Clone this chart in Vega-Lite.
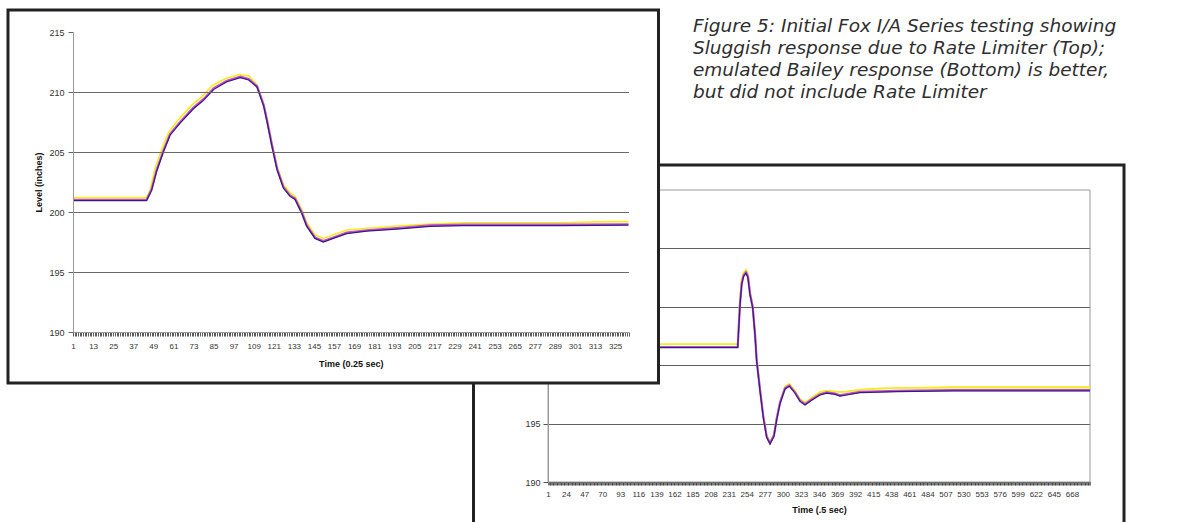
{
  "$schema": "https://vega.github.io/schema/vega-lite/v6.json",
  "width": 1179,
  "height": 522,
  "autosize": {"type": "none"},
  "padding": 0,
  "background": "white",
  "config": {
    "view": {"stroke": null},
    "axis": {"labelFont": "Liberation Sans", "titleFont": "Liberation Sans"}
  },
  "datasets": {
    "top": [
      {"s":"y","t":1,"v":201.2},{"s":"y","t":45,"v":201.2},{"s":"y","t":47,"v":201.8},{"s":"y","t":50,"v":203.6},{"s":"y","t":54,"v":205.2},{"s":"y","t":58,"v":206.6},{"s":"y","t":64,"v":207.7},{"s":"y","t":72,"v":208.9},{"s":"y","t":78,"v":209.6},{"s":"y","t":84,"v":210.5},{"s":"y","t":92,"v":211.1},{"s":"y","t":100,"v":211.45},{"s":"y","t":106,"v":211.35},{"s":"y","t":111,"v":210.6},{"s":"y","t":115,"v":209.0},{"s":"y","t":117,"v":207.8},{"s":"y","t":120,"v":205.7},{"s":"y","t":123,"v":203.8},{"s":"y","t":126.7,"v":202.3},{"s":"y","t":130.7,"v":201.6},{"s":"y","t":133.7,"v":201.3},{"s":"y","t":137.7,"v":200.2},{"s":"y","t":140.7,"v":199.1},{"s":"y","t":145.6,"v":198.1},{"s":"y","t":150.6,"v":197.8},{"s":"y","t":156.6,"v":198.1},{"s":"y","t":164.6,"v":198.5},{"s":"y","t":176.5,"v":198.65},{"s":"y","t":196.4,"v":198.85},{"s":"y","t":214,"v":199.0},{"s":"y","t":234,"v":199.1},{"s":"y","t":294,"v":199.1},{"s":"y","t":320,"v":199.2},{"s":"y","t":333,"v":199.2},
      {"s":"m","t":1,"v":201.02},{"s":"m","t":45,"v":201.02},{"s":"m","t":48,"v":201.9},{"s":"m","t":51,"v":203.5},{"s":"m","t":55,"v":205.1},{"s":"m","t":59,"v":206.5},{"s":"m","t":65,"v":207.5},{"s":"m","t":73,"v":208.7},{"s":"m","t":79,"v":209.4},{"s":"m","t":85,"v":210.3},{"s":"m","t":93,"v":210.93},{"s":"m","t":101,"v":211.27},{"s":"m","t":106,"v":211.08},{"s":"m","t":111,"v":210.48},{"s":"m","t":115,"v":208.9},{"s":"m","t":117,"v":207.6},{"s":"m","t":120,"v":205.5},{"s":"m","t":123,"v":203.6},{"s":"m","t":126.7,"v":202.1},{"s":"m","t":130.7,"v":201.38},{"s":"m","t":133.7,"v":201.12},{"s":"m","t":137.7,"v":199.98},{"s":"m","t":140.7,"v":198.88},{"s":"m","t":145.6,"v":197.88},{"s":"m","t":150.6,"v":197.58},{"s":"m","t":156.6,"v":197.88},{"s":"m","t":164.6,"v":198.28},{"s":"m","t":176.5,"v":198.48},{"s":"m","t":196.4,"v":198.68},{"s":"m","t":214.4,"v":198.88},{"s":"m","t":234.3,"v":198.94},{"s":"m","t":294,"v":198.94},{"s":"m","t":333,"v":198.98},
      {"s":"n","t":1,"v":200.95},{"s":"n","t":45,"v":200.95},{"s":"n","t":48,"v":201.8},{"s":"n","t":51,"v":203.4},{"s":"n","t":55,"v":205.0},{"s":"n","t":59,"v":206.4},{"s":"n","t":65,"v":207.4},{"s":"n","t":73,"v":208.6},{"s":"n","t":79,"v":209.3},{"s":"n","t":85,"v":210.2},{"s":"n","t":93,"v":210.85},{"s":"n","t":101,"v":211.2},{"s":"n","t":106,"v":211.0},{"s":"n","t":111,"v":210.4},{"s":"n","t":115,"v":208.8},{"s":"n","t":117,"v":207.5},{"s":"n","t":120,"v":205.4},{"s":"n","t":123,"v":203.5},{"s":"n","t":126.7,"v":202.0},{"s":"n","t":130.7,"v":201.3},{"s":"n","t":133.7,"v":201.05},{"s":"n","t":137.7,"v":199.9},{"s":"n","t":140.7,"v":198.8},{"s":"n","t":145.6,"v":197.8},{"s":"n","t":150.6,"v":197.5},{"s":"n","t":156.6,"v":197.8},{"s":"n","t":164.6,"v":198.2},{"s":"n","t":176.5,"v":198.4},{"s":"n","t":196.4,"v":198.6},{"s":"n","t":214.4,"v":198.8},{"s":"n","t":234.3,"v":198.86},{"s":"n","t":294,"v":198.86},{"s":"n","t":333,"v":198.9}
    ],
    "bot": [
      {"s":"y","t":1,"v":201.8},{"s":"y","t":242.5,"v":201.8},{"s":"y","t":245.2,"v":205.4},{"s":"y","t":247.5,"v":207.3},{"s":"y","t":250,"v":207.9},{"s":"y","t":253,"v":208.15},{"s":"y","t":255.5,"v":207.8},{"s":"y","t":258.2,"v":206.3},{"s":"y","t":261.6,"v":205.1},{"s":"y","t":264.5,"v":202.8},{"s":"y","t":266.7,"v":200.5},{"s":"y","t":270.9,"v":198.0},{"s":"y","t":275.1,"v":195.6},{"s":"y","t":279.4,"v":193.95},{"s":"y","t":283.6,"v":193.4},{"s":"y","t":288.7,"v":194.1},{"s":"y","t":292.1,"v":195.5},{"s":"y","t":296.4,"v":196.9},{"s":"y","t":302.7,"v":198.15},{"s":"y","t":308.2,"v":198.4},{"s":"y","t":315.5,"v":197.8},{"s":"y","t":321.8,"v":197.1},{"s":"y","t":328.2,"v":196.8},{"s":"y","t":336.7,"v":197.2},{"s":"y","t":347.3,"v":197.7},{"s":"y","t":355.8,"v":197.8},{"s":"y","t":366.4,"v":197.75},{"s":"y","t":372.7,"v":197.7},{"s":"y","t":381.3,"v":197.75},{"s":"y","t":398.2,"v":197.9},{"s":"y","t":423.7,"v":198.0},{"s":"y","t":444.9,"v":198.05},{"s":"y","t":516.6,"v":198.1},{"s":"y","t":691,"v":198.1},
      {"s":"m","t":1,"v":201.56},{"s":"m","t":242.5,"v":201.56},{"s":"m","t":245.4,"v":205.2},{"s":"m","t":247.6,"v":207.0},{"s":"m","t":250,"v":207.7},{"s":"m","t":253,"v":207.95},{"s":"m","t":255.5,"v":207.6},{"s":"m","t":258.2,"v":206.1},{"s":"m","t":261.6,"v":205.0},{"s":"m","t":264.5,"v":202.7},{"s":"m","t":266.7,"v":200.4},{"s":"m","t":270.9,"v":197.9},{"s":"m","t":275.1,"v":195.6},{"s":"m","t":279.4,"v":193.9},{"s":"m","t":283.6,"v":193.32},{"s":"m","t":288.7,"v":194.0},{"s":"m","t":292.1,"v":195.4},{"s":"m","t":296.4,"v":196.8},{"s":"m","t":302.7,"v":198.02},{"s":"m","t":308.2,"v":198.27},{"s":"m","t":315.5,"v":197.67},{"s":"m","t":321.8,"v":196.97},{"s":"m","t":328.2,"v":196.67},{"s":"m","t":336.7,"v":197.07},{"s":"m","t":347.3,"v":197.52},{"s":"m","t":355.8,"v":197.67},{"s":"m","t":366.4,"v":197.57},{"s":"m","t":372.7,"v":197.42},{"s":"m","t":381.3,"v":197.52},{"s":"m","t":398.2,"v":197.72},{"s":"m","t":423.7,"v":197.77},{"s":"m","t":444.9,"v":197.8},{"s":"m","t":516.6,"v":197.87},{"s":"m","t":691,"v":197.87},
      {"s":"n","t":1,"v":201.5},{"s":"n","t":242.5,"v":201.5},{"s":"n","t":245.4,"v":205.1},{"s":"n","t":247.6,"v":206.9},{"s":"n","t":250,"v":207.6},{"s":"n","t":253,"v":207.87},{"s":"n","t":255.5,"v":207.5},{"s":"n","t":258.2,"v":206.0},{"s":"n","t":261.6,"v":204.9},{"s":"n","t":264.5,"v":202.6},{"s":"n","t":266.7,"v":200.3},{"s":"n","t":270.9,"v":197.8},{"s":"n","t":275.1,"v":195.5},{"s":"n","t":279.4,"v":193.8},{"s":"n","t":283.6,"v":193.25},{"s":"n","t":288.7,"v":193.9},{"s":"n","t":292.1,"v":195.3},{"s":"n","t":296.4,"v":196.7},{"s":"n","t":302.7,"v":197.95},{"s":"n","t":308.2,"v":198.2},{"s":"n","t":315.5,"v":197.6},{"s":"n","t":321.8,"v":196.9},{"s":"n","t":328.2,"v":196.6},{"s":"n","t":336.7,"v":197.0},{"s":"n","t":347.3,"v":197.45},{"s":"n","t":355.8,"v":197.6},{"s":"n","t":366.4,"v":197.5},{"s":"n","t":372.7,"v":197.35},{"s":"n","t":381.3,"v":197.45},{"s":"n","t":398.2,"v":197.65},{"s":"n","t":423.7,"v":197.7},{"s":"n","t":444.9,"v":197.73},{"s":"n","t":516.6,"v":197.8},{"s":"n","t":691,"v":197.8}
    ]
  },
  "resolve": {"scale": {"x": "independent", "y": "independent"}, "axis": {"x": "independent", "y": "independent"}},
  "layer": [
    {
      "data": {"name": "bot"},
      "transform": [{"filter": "datum.s == 'y'"}],
      "mark": {"type": "line", "color": "#F5EC1E", "strokeWidth": 1.6},
      "encoding": {
        "x": {"field": "t", "type": "quantitative",
          "scale": {"domain": [1, 691], "range": [548, 1090], "nice": false, "zero": false},
          "axis": {"orient": "bottom", "offset": -40, "zindex": 0, "tickCount": 690, "format": "d",
            "labelExpr": "(datum.value - 1) % 23 == 0 && datum.value < 680 ? datum.label : ''",
            "labelOverlap": false, "labelFlush": false, "labelBound": false, "grid": false,
            "domainColor": "#444", "tickColor": "#222", "tickWidth": 0.6, "tickSize": 3,
            "labelFontSize": 8, "labelColor": "#333", "labelPadding": 5,
            "title": "Time (.5 sec)", "titleFontSize": 9, "titleFontWeight": "bold", "titleColor": "#111", "titlePadding": 7}},
        "y": {"field": "v", "type": "quantitative",
          "scale": {"domain": [190, 215], "range": [482, 190], "nice": false, "zero": false},
          "axis": {"orient": "left", "offset": -548, "zindex": 0, "values": [190, 195, 200, 205, 210, 215],
            "grid": true, "gridColor": {"condition": {"test": "datum.value == 190 || datum.value == 215", "value": "transparent"}, "value": "#606060"},
            "domainColor": "#999", "tickColor": "#555", "tickSize": 5, "labelOverlap": false, "labelFlush": false,
            "labelFontSize": 9, "labelColor": "#333", "labelPadding": 3,
            "title": "Level (inches)", "titleFontSize": 9, "titleFontWeight": "bold", "titleColor": "#111", "titlePadding": 5}}
      }
    },
    {
      "data": {"values": [{}]},
      "mark": {"type": "rect", "filled": false, "color": "#222", "strokeWidth": 3},
      "encoding": {
        "x": {"datum": -93.84, "type": "quantitative", "scale": {"domain": [1, 691], "range": [548, 1090], "nice": false, "zero": false}, "axis": null},
        "x2": {"datum": 734.3},
        "y": {"datum": 217.14, "type": "quantitative", "scale": {"domain": [190, 215], "range": [482, 190], "nice": false, "zero": false}, "axis": null},
        "y2": {"datum": 184.86}
      }
    },
    {
      "data": {"values": [{}]},
      "mark": {"type": "rect", "filled": false, "color": "#9a9a9a", "strokeWidth": 1},
      "encoding": {
        "x": {"datum": 1, "type": "quantitative", "scale": {"domain": [1, 691], "range": [548, 1090], "nice": false, "zero": false}, "axis": null},
        "x2": {"datum": 691},
        "y": {"datum": 190, "type": "quantitative", "scale": {"domain": [190, 215], "range": [482, 190], "nice": false, "zero": false}, "axis": null},
        "y2": {"datum": 215}
      }
    },
    {
      "data": {"name": "bot"},
      "transform": [{"filter": "datum.s == 'y'"}],
      "mark": {"type": "line", "color": "#F5EC1E", "strokeWidth": 1.6},
      "encoding": {
        "x": {"field": "t", "type": "quantitative", "scale": {"domain": [1, 691], "range": [548, 1090], "nice": false, "zero": false}, "axis": null},
        "y": {"field": "v", "type": "quantitative", "scale": {"domain": [190, 215], "range": [482, 190], "nice": false, "zero": false}, "axis": null}
      }
    },
    {
      "data": {"name": "bot"},
      "transform": [{"filter": "datum.s == 'm'"}],
      "mark": {"type": "line", "color": "#C84CC8", "strokeWidth": 2.2},
      "encoding": {
        "x": {"field": "t", "type": "quantitative", "scale": {"domain": [1, 691], "range": [548, 1090], "nice": false, "zero": false}, "axis": null},
        "y": {"field": "v", "type": "quantitative", "scale": {"domain": [190, 215], "range": [482, 190], "nice": false, "zero": false}, "axis": null}
      }
    },
    {
      "data": {"name": "bot"},
      "transform": [{"filter": "datum.s == 'n'"}],
      "mark": {"type": "line", "color": "#2E1E8A", "strokeWidth": 1.2},
      "encoding": {
        "x": {"field": "t", "type": "quantitative", "scale": {"domain": [1, 691], "range": [548, 1090], "nice": false, "zero": false}, "axis": null},
        "y": {"field": "v", "type": "quantitative", "scale": {"domain": [190, 215], "range": [482, 190], "nice": false, "zero": false}, "axis": null}
      }
    },
    {
      "data": {"values": [{}]},
      "mark": {"type": "rect", "fill": "white", "stroke": "#222", "strokeWidth": 3},
      "encoding": {
        "x": {"datum": -37.85, "type": "quantitative", "scale": {"domain": [1, 333], "range": [73, 628.5], "nice": false, "zero": false}, "axis": null},
        "x2": {"datum": 350.93},
        "y": {"datum": 216.83, "type": "quantitative", "scale": {"domain": [190, 215], "range": [332, 32], "nice": false, "zero": false}, "axis": null},
        "y2": {"datum": 185.75}
      }
    },
    {
      "data": {"name": "top"},
      "transform": [{"filter": "datum.s == 'y'"}],
      "mark": {"type": "line", "color": "#F5EC1E", "strokeWidth": 1.6},
      "encoding": {
        "x": {"field": "t", "type": "quantitative",
          "scale": {"domain": [1, 333], "range": [73, 628.5], "nice": false, "zero": false},
          "axis": {"orient": "bottom", "offset": -190, "zindex": 1, "tickCount": 332, "format": "d",
            "labelExpr": "(datum.value - 1) % 12 == 0 ? datum.label : ''",
            "labelOverlap": false, "labelFlush": false, "labelBound": false, "grid": false,
            "domainColor": "#999", "tickColor": "#333", "tickWidth": 0.8, "tickSize": 4,
            "labelFontSize": 8, "labelColor": "#333", "labelPadding": 6,
            "title": "Time (0.25 sec)", "titleFontSize": 9, "titleFontWeight": "bold", "titleColor": "#111", "titlePadding": 9}},
        "y": {"field": "v", "type": "quantitative",
          "scale": {"domain": [190, 215], "range": [332, 32], "nice": false, "zero": false},
          "axis": {"orient": "left", "offset": -73, "zindex": 1, "values": [190, 195, 200, 205, 210, 215],
            "grid": true, "gridColor": {"condition": {"test": "datum.value == 190 || datum.value == 215", "value": "transparent"}, "value": "#6a6a6a"},
            "domainColor": "#999", "tickColor": "#666", "tickSize": 5, "labelOverlap": false, "labelFlush": false,
            "labelFontSize": 9, "labelColor": "#333", "labelPadding": 4,
            "title": "Level (inches)", "titleFontSize": 9, "titleFontWeight": "bold", "titleColor": "#111", "titlePadding": 5}}
      }
    },
    {
      "data": {"name": "top"},
      "transform": [{"filter": "datum.s == 'm'"}],
      "mark": {"type": "line", "color": "#C84CC8", "strokeWidth": 2.2},
      "encoding": {
        "x": {"field": "t", "type": "quantitative", "scale": {"domain": [1, 333], "range": [73, 628.5], "nice": false, "zero": false}, "axis": null},
        "y": {"field": "v", "type": "quantitative", "scale": {"domain": [190, 215], "range": [332, 32], "nice": false, "zero": false}, "axis": null}
      }
    },
    {
      "data": {"name": "top"},
      "transform": [{"filter": "datum.s == 'n'"}],
      "mark": {"type": "line", "color": "#2E1E8A", "strokeWidth": 1.2},
      "encoding": {
        "x": {"field": "t", "type": "quantitative", "scale": {"domain": [1, 333], "range": [73, 628.5], "nice": false, "zero": false}, "axis": null},
        "y": {"field": "v", "type": "quantitative", "scale": {"domain": [190, 215], "range": [332, 32], "nice": false, "zero": false}, "axis": null}
      }
    },
    {
      "data": {"values": [{}]},
      "mark": {"type": "text", "text": ["Figure 5: Initial Fox I/A Series testing showing", "Sluggish response due to Rate Limiter (Top);", "emulated Bailey response (Bottom) is better,", "but did not include Rate Limiter"],
        "align": "left", "baseline": "alphabetic", "lineHeight": 21.8, "font": "DejaVu Sans", "fontStyle": "italic", "fontSize": 18.5, "color": "#2e2e2e"},
      "encoding": {
        "x": {"datum": 371.5, "type": "quantitative", "scale": {"domain": [1, 333], "range": [73, 628.5], "nice": false, "zero": false}, "axis": null},
        "y": {"datum": 214.96, "type": "quantitative", "scale": {"domain": [190, 215], "range": [332, 32], "nice": false, "zero": false}, "axis": null}
      }
    }
  ]
}
